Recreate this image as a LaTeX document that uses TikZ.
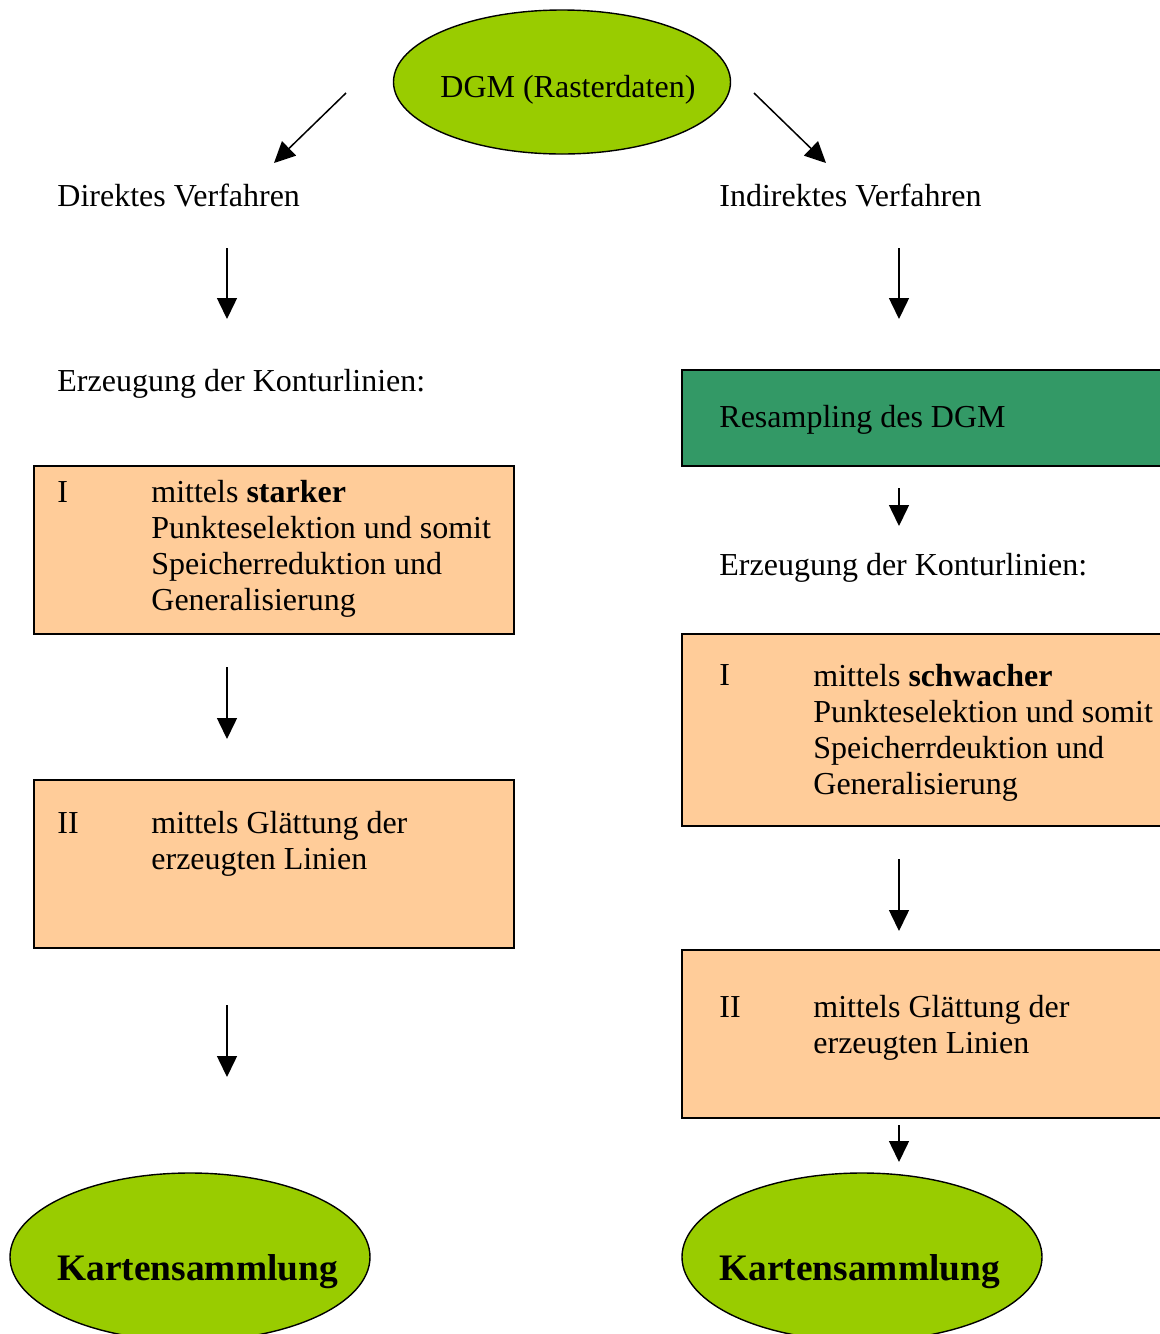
\documentclass[tikz,border=0pt]{standalone}
\usepackage{fontspec}
\setmainfont{Liberation Serif}
\usetikzlibrary{shapes.geometric,arrows.meta}

\definecolor{hellgruen}{HTML}{99CC00}
\definecolor{dunkelgruen}{HTML}{339966}
\definecolor{pfirsich}{HTML}{FFCC99}

\tikzset{
  pfeil/.style={-{Triangle[length=10.5pt,width=10pt]}, line width=0.75pt},
  oval/.style={ellipse, draw, line width=0.7pt, fill=hellgruen, inner sep=0pt},
  kasten/.style={rectangle, draw, line width=0.7pt, fill=pfirsich, inner sep=0pt},
  txt/.style={anchor=base west, inner sep=0pt, align=left,
    font=\fontsize{16}{18}\selectfont}
}

\begin{document}
\begin{tikzpicture}[x=0.5pt, y=-0.5pt]
        \useasboundingbox (0,0) rectangle (1160,1334);
        \clip (0,0) rectangle (1160,1334);

        % Ausgangsdaten
        \node[oval, minimum width=168.5pt, minimum height=72pt] (dgm) at (562,82) {};
        \node[txt] (dgmtxt) at (440,97) {DGM (Rasterdaten)};
        \coordinate (dl1) at (346,93);
        \coordinate (dl2) at (274,163);
        \coordinate (dr1) at (754,93);
        \coordinate (dr2) at (826,163);
        \draw[pfeil] (dl1) -- (dl2);
        \draw[pfeil] (dr1) -- (dr2);

        % Direktes Verfahren (links)
        \node[txt] (direkt) at (57,206) {Direktes Verfahren};
        \coordinate (la1) at (227,248);
        \coordinate (la2) at (227,319);
        \draw[pfeil] (la1) -- (la2);
        \node[txt] (erzl) at (57,391) {Erzeugung der Konturlinien:};
        \node[kasten, minimum width=240pt, minimum height=84pt] (lI) at (274,550) {};
        \node[txt] (lInr) at (57,502) {I};
        % base = letzte Zeile
        \node[txt] (lItxt) at (151,610) {mittels \textbf{starker}\\Punkteselektion und somit\\Speicherreduktion und\\Generalisierung};
        \coordinate (lb1) at (227,667);
        \coordinate (lb2) at (227,739);
        \draw[pfeil] (lb1) -- (lb2);
        \node[kasten, minimum width=240pt, minimum height=84pt] (lII) at (274,864) {};
        \node[txt] (lIInr) at (57,833) {II};
        \node[txt] (lIItxt) at (151,869) {mittels Glättung der\\erzeugten Linien};
        \coordinate (lc1) at (227,1005);
        \coordinate (lc2) at (227,1077);
        \draw[pfeil] (lc1) -- (lc2);
        \node[oval, minimum width=180pt, minimum height=84pt] (kartel) at (190,1257) {};
        \node[txt, font=\fontsize{18.7}{20}\selectfont\bfseries] (kartelt) at (57,1280) {Kartensammlung};

        % Indirektes Verfahren (rechts)
        \node[txt] (indirekt) at (719,206) {Indirektes Verfahren};
        \coordinate (ra1) at (899,248);
        \coordinate (ra2) at (899,319);
        \draw[pfeil] (ra1) -- (ra2);
        \node[kasten, fill=dunkelgruen, minimum width=244pt, minimum height=48pt] (resamp) at (926,418) {};
        \node[txt] (resamptxt) at (719,427) {Resampling des DGM};
        \coordinate (rb1) at (899,488);
        \coordinate (rb2) at (899,526);
        \draw[pfeil] (rb1) -- (rb2);
        \node[txt] (erzr) at (719,575) {Erzeugung der Konturlinien:};
        \node[kasten, minimum width=244pt, minimum height=96pt] (rI) at (926,730) {};
        \node[txt] (rInr) at (719,685) {I};
        \node[txt] (rItxt) at (813,794) {mittels \textbf{schwacher}\\Punkteselektion und somit\\Speicherrdeuktion und\\Generalisierung};
        \coordinate (rc1) at (899,859);
        \coordinate (rc2) at (899,931);
        \draw[pfeil] (rc1) -- (rc2);
        \node[kasten, minimum width=244pt, minimum height=84pt] (rII) at (926,1034) {};
        \node[txt] (rIInr) at (719,1017) {II};
        \node[txt] (rIItxt) at (813,1053) {mittels Glättung der\\erzeugten Linien};
        \coordinate (rd1) at (899,1125);
        \coordinate (rd2) at (899,1162);
        \draw[pfeil] (rd1) -- (rd2);
        \node[oval, minimum width=180pt, minimum height=84pt] (karter) at (862,1257) {};
        \node[txt, font=\fontsize{18.7}{20}\selectfont\bfseries] (kartert) at (719,1280) {Kartensammlung};
    \end{tikzpicture}
\end{document}
